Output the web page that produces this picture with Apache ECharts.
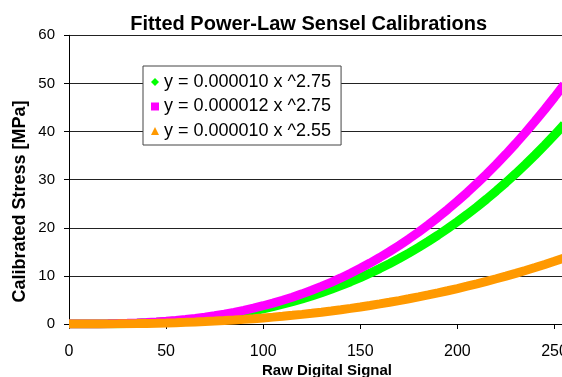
<!DOCTYPE html>
<html>
<head>
<meta charset="utf-8">
<script src="https://cdn.jsdelivr.net/npm/echarts@6/dist/echarts.min.js"></script>
<style>
html,body{margin:0;padding:0;background:#fff;}
#chart{width:562px;height:377px;}
</style>
</head>
<body>
<div id="chart"></div>
<script>
var FONT = "'Liberation Sans', Arial, sans-serif";

var titleText = "Fitted Power-Law Sensel Calibrations";
var xAxisName = "Raw Digital Signal";
var yAxisName = "Calibrated Stress [MPa]";
var seriesNames = ["y = 0.000010 x ^2.75", "y = 0.000012 x ^2.75", "y = 0.000010 x ^2.55"];

var xValues = [0,5,10,15,20,25,30,35,40,45,50,55,60,65,70,75,80,85,90,95,100,105,110,115,120,125,130,135,140,145,150,155,160,165,170,175,180,185,190,195,200,205,210,215,220,225,230,235,240,245,250,255];

var greenValues = [0,0.0008,0.0056,0.0171,0.0378,0.0699,0.1154,0.1762,0.2545,0.3518,0.4701,0.6109,0.7761,0.9672,1.1858,1.4335,1.7119,2.0226,2.3669,2.7462,3.1623,3.6163,4.1099,4.6442,5.2208,5.8410,6.5063,7.2179,7.9772,8.7854,9.6441,10.554,11.517,12.534,13.606,14.736,15.922,17.168,18.475,19.843,21.273,22.768,24.327,25.953,27.647,29.410,31.242,33.145,35.122,37.171,39.295,41.494];

var magentaValues = [0,0.0010,0.0067,0.0206,0.0454,0.0839,0.1385,0.2115,0.3054,0.4221,0.5641,0.7331,0.9313,1.1606,1.4230,1.7202,2.0543,2.4271,2.8403,3.2954,3.7947,4.3396,4.9319,5.5730,6.2650,7.0092,7.8076,8.6615,9.5726,10.542,11.573,12.665,13.820,15.041,16.327,17.683,19.106,20.602,22.170,23.812,25.528,27.322,29.192,31.144,33.176,35.292,37.490,39.774,42.146,44.605,47.154,49.793];

var orangeValues = [0,0.0006,0.0035,0.0100,0.0208,0.0367,0.0584,0.0866,0.1217,0.1643,0.2150,0.2741,0.3422,0.4197,0.5070,0.6045,0.7126,0.8318,0.9623,1.1046,1.2589,1.4257,1.6053,1.7980,2.0040,2.2239,2.4578,2.7061,2.9690,3.2470,3.5402,3.8491,4.1737,4.5144,4.8714,5.2452,5.6358,6.0437,6.4689,6.9119,7.3728,7.8520,8.3496,8.8660,9.4013,9.9557,10.530,11.123,11.736,12.370,13.024,13.698];

var xTicks = {min:0, max:300, interval:50};
var yTicks = {min:0, max:60, interval:10};

function pairs(vals){ return xValues.map(function(x,i){ return [x, vals[i]]; }); }

var chart = echarts.init(document.getElementById('chart'), null, {renderer:'canvas'});

var option = {
  animation:false,
  backgroundColor:'#fff',
  grid:{left:69, right:-89.6, top:35.3, bottom:53, containLabel:false, outerBoundsMode:'none'},
  graphic:[
    {type:'text', x:308.7, y:24.8, style:{text:titleText, font:"bold 20px " + FONT, fill:'#000', textAlign:'center', textVerticalAlign:'middle'}},
    {type:'text', x:327, y:370.5, style:{text:xAxisName, font:"bold 15px " + FONT, fill:'#000', textAlign:'center', textVerticalAlign:'middle'}},
    {type:'text', x:20.3, y:201.5, rotation:Math.PI/2, style:{text:yAxisName, font:"bold 18px " + FONT, fill:'#000', textAlign:'center', textVerticalAlign:'middle'}}
  ],
  legend:{
    orient:'vertical', left:143, top:66,
    padding:[7,10,5,8], itemGap:6.5, itemWidth:8, itemHeight:8,
    backgroundColor:'#fff', borderColor:'#444', borderWidth:1, borderRadius:0,
    selectedMode:false,
    textStyle:{fontSize:18, color:'#000', fontFamily:FONT},
    data:[
      {name:seriesNames[0], icon:'diamond'},
      {name:seriesNames[1], icon:'rect'},
      {name:seriesNames[2], icon:'triangle'}
    ]
  },
  xAxis:{
    type:'value', min:xTicks.min, max:xTicks.max, interval:xTicks.interval,
    axisLine:{show:true, lineStyle:{color:'#000', width:1}},
    axisTick:{show:true, inside:false, length:5, lineStyle:{color:'#000'}},
    axisLabel:{fontSize:16, color:'#000', fontFamily:FONT, margin:20},
    splitLine:{show:false}
  },
  yAxis:{
    type:'value', min:yTicks.min, max:yTicks.max, interval:yTicks.interval,
    axisLine:{show:true, lineStyle:{color:'#000', width:1}},
    axisTick:{show:true, inside:false, length:5, lineStyle:{color:'#000'}},
    axisLabel:{fontSize:15, color:'#000', fontFamily:FONT, margin:14},
    splitLine:{show:true, lineStyle:{color:'#222', width:1}}
  },
  series:[
    {name:seriesNames[0], type:'line', data:pairs(greenValues), showSymbol:false, symbol:'diamond', smooth:false,
     itemStyle:{color:'#00ff00'}, lineStyle:{color:'#00ff00', width:9}, z:2},
    {name:seriesNames[1], type:'line', data:pairs(magentaValues), showSymbol:false, symbol:'rect',
     itemStyle:{color:'#ff00ff'}, lineStyle:{color:'#ff00ff', width:9}, z:3},
    {name:seriesNames[2], type:'line', data:pairs(orangeValues), showSymbol:false, symbol:'triangle',
     itemStyle:{color:'#ff9900'}, lineStyle:{color:'#ff9900', width:9}, z:4}
  ]
};
chart.setOption(option);
</script>
</body>
</html>
